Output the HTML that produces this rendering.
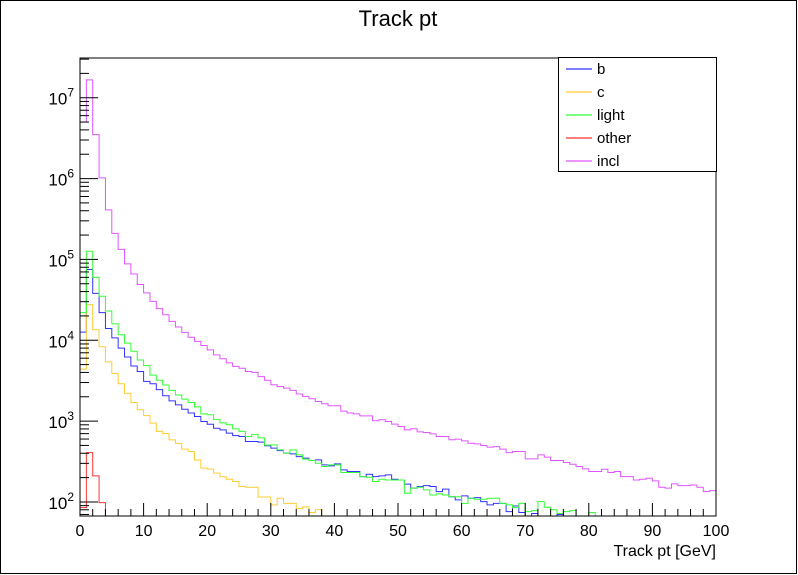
<!DOCTYPE html>
<html><head><meta charset="utf-8"><style>
html,body{margin:0;padding:0;background:#fff}
svg{display:block;font-family:"Liberation Sans",sans-serif}
</style></head><body>
<svg id="c" width="798" height="575" viewBox="0 0 798 575">
<rect x="0.5" y="0.5" width="796" height="573" fill="#fff" stroke="#000"/>
<text x="398" y="26" font-size="22" text-anchor="middle">Track pt</text>
<g id="plot"></g>
<rect x="80" y="58" width="636" height="458" fill="none" stroke="#000" stroke-width="1"/>
<text x="716" y="556" font-size="16" text-anchor="end">Track pt [GeV]</text>
<g id="legend">
<rect x="558.5" y="57.5" width="158" height="114" fill="#fff" stroke="#000"/>
</g>
</svg>
<script>
const seriesNames = ["b","c","light","other","incl"];
const seriesColors = ["#3333ff","#ffcc33","#33ff33","#ff3333","#e055ff"];
const bValues = [1.26e4,7.5e4,3.8e4,2.2e4,1.4e4,1.07e4,8e3,6.2e3,4.8e3,4.1e3,3.1e3,2.9e3,2.45e3,2.06e3,1.78e3,1.59e3,1.4e3,1.26e3,1.14e3,990,915,815,780,710,660,645,560,560,550,495,463,432,401,393,364,348,325,331,287,279,296,249,238,238,206,220,206,210,216,191,187,166,148,155,159,155,134,144,116,106,119,111,113,101,92,96,96,76,89,74,50,72,50,50,50,70,50,50,50,50,50,50,50,50,50,50,50,50,50,50,50,50,50,50,50,50,50,50,50,50];
const cValues = [4.4e3,2.76e4,1.35e4,8.3e3,5.4e3,3.9e3,2.9e3,2.2e3,1.7e3,1.38e3,1.17e3,945,745,700,585,530,450,420,330,262,255,227,205,191,179,155,152,152,115,115,92,111,96,96,83,87,74,80,30,30,30,30,30,30,30,30,30,30,30,30,30,30,30,30,30,30,30,30,30,30,30,30,30,30,30,30,30,30,30,30,30,30,30,30,30,30,30,30,30,30,30,30,30,30,30,30,30,30,30,30,30,30,30,30,30,30,30,30,30,30];
const lightValues = [2.2e4,1.26e5,6e4,3.5e4,2.3e4,1.6e4,1.17e4,9.2e3,7.3e3,5.7e3,4.85e3,3.7e3,3.2e3,2.8e3,2.4e3,2.1e3,1.87e3,1.7e3,1.5e3,1.23e3,1.2e3,1.05e3,950,900,800,745,645,680,620,505,508,441,401,441,382,338,325,301,274,287,287,231,231,231,206,202,179,191,187,187,187,128,148,152,141,122,126,122,116,116,96,111,108,108,111,111,96,92,85,96,76,78,101,86,80,72,76,78,50,50,74,50,50,50,50,50,50,50,50,50,50,50,50,50,50,50,50,50,50,50];
const otherValues = [85,408,210,98,50,0,0,0,0,0,0,0,0,0,0,0,0,0,0,0,0,0,0,0,0,0,0,0,0,0,0,0,0,0,0,0,0,0,0,0,0,0,0,0,0,0,0,0,0,0,0,0,0,0,0,0,0,0,0,0,0,0,0,0,0,0,0,0,0,0,0,0,0,0,0,0,0,0,0,0,0,0,0,0,0,0,0,0,0,0,0,0,0,0,0,0,0,0,0,0];
const inclValues = [5.0e6,1.66e7,3.5e6,1.02e6,4.1e5,2.1e5,1.33e5,8.8e4,6.6e4,4.9e4,3.85e4,3.03e4,2.46e4,2.07e4,1.71e4,1.46e4,1.25e4,1.09e4,9.7e3,8.6e3,7.6e3,6.6e3,5.9e3,5.25e3,4.76e3,4.5e3,4.1e3,4.0e3,3.55e3,3.2e3,2.82e3,2.68e3,2.56e3,2.4e3,2.16e3,2.02e3,1.89e3,1.75e3,1.64e3,1.55e3,1.55e3,1.33e3,1.26e3,1.23e3,1.16e3,1.16e3,1.01e3,1.04e3,990,918,858,780,803,736,723,696,645,645,587,598,570,533,523,499,476,484,450,408,421,421,341,341,382,358,325,325,307,293,274,256,238,238,254,231,238,206,206,187,191,196,182,152,148,167,159,159,162,152,134,138];
const xTickLabels = ["0","10","20","30","40","50","60","70","80","90","100"];
const yTickExponents = ["2","3","4","5","6","7"];

const NS="http://www.w3.org/2000/svg";
const X0=80,X1=716,Y0=516,Y1=58,XMIN=0,XMAX=100;
const LMIN=Math.log10(67),LMAX=Math.log10(3.1e7);
function sx(v){return X0+(v-XMIN)/(XMAX-XMIN)*(X1-X0);}
function sy(v){let l=v>0?Math.log10(v):LMIN-1;l=Math.max(LMIN,Math.min(LMAX,l));return Y0-(l-LMIN)/(LMAX-LMIN)*(Y0-Y1);}
const plot=document.getElementById('plot');
function mk(t,a,p){const e=document.createElementNS(NS,t);for(const k in a)e.setAttribute(k,a[k]);(p||plot).appendChild(e);return e;}
const all=[bValues,cValues,lightValues,otherValues,inclValues];
all.forEach((vals,si)=>{
  let d="";
  vals.forEach((v,i)=>{const xa=sx(i),xb=sx(i+1),y=sy(v);d+=(i===0?"M"+xa+","+y:"L"+xa+","+y)+"L"+xb+","+y;});
  const p=mk('path',{d:d,fill:'none',stroke:seriesColors[si],'stroke-width':1});
  
  
});
for(let v=0;v<=100;v+=2){
  const major=v%10===0;const x=sx(v);
  const t=mk('line',{x1:x,x2:x,y1:Y0,y2:Y0-(major?13:7),stroke:'#000'});
  
  
}
xTickLabels.forEach(s=>{
  const t=mk('text',{x:sx(+s),y:Y0+20,'font-size':16,'text-anchor':'middle'});t.textContent=s;
  
  
});
for(let e=1;e<=7;e++){for(let m=1;m<=9;m++){
  const v=m*Math.pow(10,e);const l=Math.log10(v);if(l<LMIN||l>LMAX)continue;
  const y=sy(v);
  const t=mk('line',{x1:X0,x2:X0+(m===1?18:9),y1:y,y2:y,stroke:'#000'});
  
  
}}
yTickExponents.forEach(s=>{
  const y=sy(Math.pow(10,+s));
  const t=mk('text',{x:74,y:y+7,'font-size':17,'text-anchor':'end'});
  
  
  const b=document.createElementNS(NS,'tspan');b.textContent='10';t.appendChild(b);
  const sp=document.createElementNS(NS,'tspan');sp.setAttribute('dy','-8');sp.setAttribute('font-size','12');sp.textContent=s;t.appendChild(sp);
});
const lg=document.getElementById('legend');
seriesNames.forEach((n,i)=>{
  const y=69+i*23;
  const l=mk('line',{x1:566,x2:592,y1:y,y2:y,stroke:seriesColors[i],'stroke-width':1.2},lg);
  
  
  const t=mk('text',{x:597,y:y+5,'font-size':15},lg);t.textContent=n;
  
  
});
</script>
</body></html>
